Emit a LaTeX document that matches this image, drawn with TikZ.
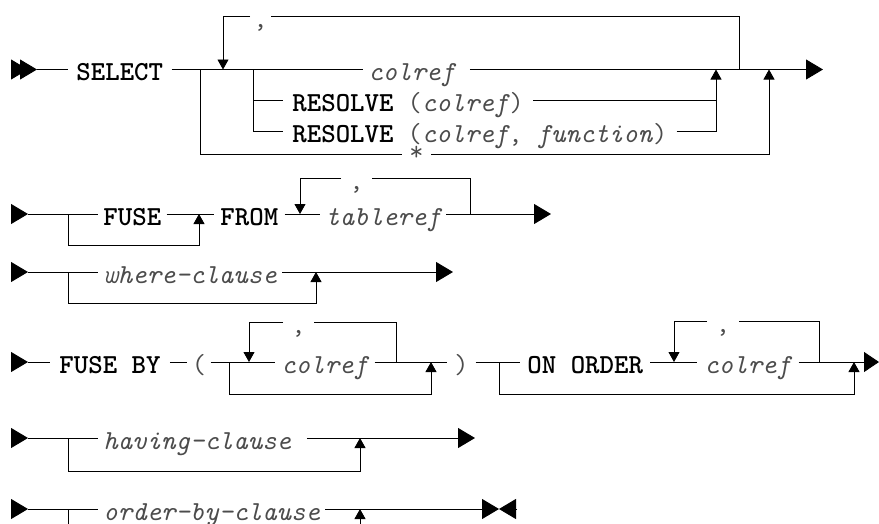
\documentclass[tikz,border=0pt]{standalone}
\usetikzlibrary{arrows.meta}

\definecolor{vargray}{gray}{0.3}
\tikzset{
  txt/.style={anchor=west, inner ysep=0pt, inner xsep=5pt, text height=25pt, text depth=3pt,
    font=\fontsize{27.5}{30}\selectfont\ttfamily},
  kw/.style={txt, font=\fontsize{27.5}{30}\selectfont\ttfamily\bfseries},
  var/.style={txt, font=\fontsize{27.5}{30}\selectfont\ttfamily\itshape, text=vargray},
  sym/.style={txt, text=vargray},
  bigtip/.style={-{Triangle[length=17pt,width=20pt]}},
  smalltip/.style={-{Triangle[length=10pt,width=11pt]}},
}

\begin{document}
\begin{tikzpicture}[x=1pt,y=-1pt,line width=0.9pt]
  \useasboundingbox (0,0) rectangle (879,523);
  \clip (0,0) rectangle (879,523);

  % SELECT
  \coordinate (in1) at (37,69.5);
  \coordinate (b1) at (200,69.5);
  \coordinate (loopin1) at (223,69.5);
  \coordinate (b2) at (253,69.5);
  \coordinate (j1) at (716,69.5);
  \coordinate (loopout1) at (739,69.5);
  \coordinate (j2) at (769,69.5);
  \coordinate (end1) at (823,69.5);
  \node[kw, inner xsep=8pt] (select) at (68,69.5) {SELECT};
  \node[var, text width=96pt, align=left] (colref1) at (363,69.5) {colref};
  \node[txt, inner xsep=9pt, text=vargray] (res1) at (283,100) {{\color{black}\bfseries RESOLVE} (\textit{colref})};
  \node[txt, inner xsep=9pt, text=vargray] (res2) at (283,131) {{\color{black}\bfseries RESOLVE} (\textit{colref}, \textit{function})};
  \node[sym, inner xsep=7pt, text depth=0pt, text height=22pt] (star) at (402,154) {\raisebox{5pt}{*}};
  \node[sym, inner xsep=3pt] (comma1) at (250,16) {,};

  \draw[bigtip] (12,69.5) -- (28,69.5);
  \draw[bigtip] (20,69.5) -- (in1);
  \draw (in1) -- (select.west);
  \draw (select.east) -- (colref1.west);
  \draw[bigtip] (colref1.east) -- (end1);
  \draw (b2) |- (res1.west);
  \draw (b2) |- (res2.west);
  \draw (res1.east) -- (res1.east -| j1);
  \draw[smalltip] (res2.east) -| (j1);
  \draw (b1) |- (star.west);
  \draw[smalltip] (star.east) -| (j2);
  \draw (loopout1) |- (comma1.east);
  \draw[smalltip] (comma1.west) -| (loopin1);

  % FUSE FROM
  \coordinate (in2) at (28,214);
  \coordinate (b3) at (68,214);
  \coordinate (j3) at (199,214);
  \coordinate (loopin2) at (300,214);
  \coordinate (loopout2) at (470,214);
  \coordinate (end2) at (551,214);
  \node[kw] (fuse) at (98,214) {FUSE};
  \node[kw, inner xsep=6pt] (from) at (214,214) {FROM};
  \node[var] (tableref) at (320,214) {tableref};
  \node[sym, inner xsep=8pt] (comma2) at (341,178) {,};

  \draw[bigtip] (11,214) -- (in2);
  \draw (in2) -- (fuse.west);
  \draw (fuse.east) -- (from.west);
  \draw (from.east) -- (tableref.west);
  \draw[bigtip] (tableref.east) -- (end2);
  \draw[smalltip] (b3) -- ++(0,31) -| (j3);
  \draw (loopout2) |- (comma2.east);
  \draw[smalltip] (comma2.west) -| (loopin2);

  % where
  \coordinate (in3) at (28,272);
  \coordinate (b4) at (68,272);
  \coordinate (j4) at (316,272);
  \coordinate (end3) at (453,272);
  \node[var] (where) at (98,272) {where-clause};

  \draw[bigtip] (11,272) -- (in3);
  \draw (in3) -- (where.west);
  \draw[bigtip] (where.east) -- (end3);
  \draw[smalltip] (b4) -- ++(0,31) -| (j4);

  % FUSE BY
  \coordinate (in4) at (28,362);
  \coordinate (b5) at (229,362);
  \coordinate (loopin3) at (249,362);
  \coordinate (loopout3) at (396,362);
  \coordinate (j5) at (431,362);
  \coordinate (b6) at (499,362);
  \coordinate (loopin4) at (674,362);
  \coordinate (loopout4) at (819,362);
  \coordinate (j6) at (854,362);
  \coordinate (end4) at (879,362);
  \node[kw, inner xsep=9pt] (fuseby) at (50,362) {FUSE BY};
  \node[sym, inner xsep=4.3pt] (lpar) at (187,362) {(};
  \node[var, inner xsep=6pt] (colref2) at (275,362) {colref};
  \node[sym, inner xsep=8pt] (comma3) at (283,322) {,};
  \node[sym, inner xsep=6.8pt] (rpar) at (447,362) {)};
  \node[kw, inner xsep=7pt] (onorder) at (520,362) {ON ORDER};
  \node[var, inner xsep=7pt] (colref3) at (697,362) {colref};
  \node[sym, inner xsep=8.3pt] (comma4) at (707,321) {,};

  \draw[bigtip] (11,362) -- (in4);
  \draw (in4) -- (fuseby.west);
  \draw (fuseby.east) -- (lpar.west);
  \draw (lpar.east) -- (colref2.west);
  \draw (colref2.east) -- (rpar.west);
  \draw (rpar.east) -- (onorder.west);
  \draw (onorder.east) -- (colref3.west);
  \draw[-{Triangle[length=15pt,width=20pt]}] (colref3.east) -- (end4);
  \draw (loopout3) |- (comma3.east);
  \draw[smalltip] (comma3.west) -| (loopin3);
  \draw[smalltip] (b5) -- ++(0,32) -| (j5);
  \draw (loopout4) |- (comma4.east);
  \draw[smalltip] (comma4.west) -| (loopin4);
  \draw[smalltip] (b6) -- ++(0,32) -| (j6);

  % having
  \coordinate (in5) at (28,438);
  \coordinate (b7) at (68,438);
  \coordinate (j7) at (360,438);
  \coordinate (end5) at (475,438);
  \node[var, text width=198pt, align=left] (having) at (98,438) {having-clause};

  \draw[bigtip] (11,438) -- (in5);
  \draw (in5) -- (having.west);
  \draw[bigtip] (having.east) -- (end5);
  \draw[smalltip] (b7) -- ++(0,33) -| (j7);

  % order by
  \coordinate (in6) at (28,509);
  \coordinate (b8) at (68,509);
  \coordinate (j8) at (360,509);
  \coordinate (end6) at (499,509);
  \coordinate (stop6) at (517,509);
  \node[var, text height=22pt, text depth=0pt] (orderby) at (98,509) {order-by-clause};

  \draw[bigtip] (11,509) -- (in6);
  \draw (in6) -- (orderby.west);
  \draw[bigtip] (orderby.east) -- (end6);
  \draw[bigtip] (stop6) -- (end6);
  \draw (b8) -- ([yshift=-20pt]b8);
  \draw[smalltip] ([yshift=-20pt]j8) -- (j8);
\end{tikzpicture}
\end{document}
